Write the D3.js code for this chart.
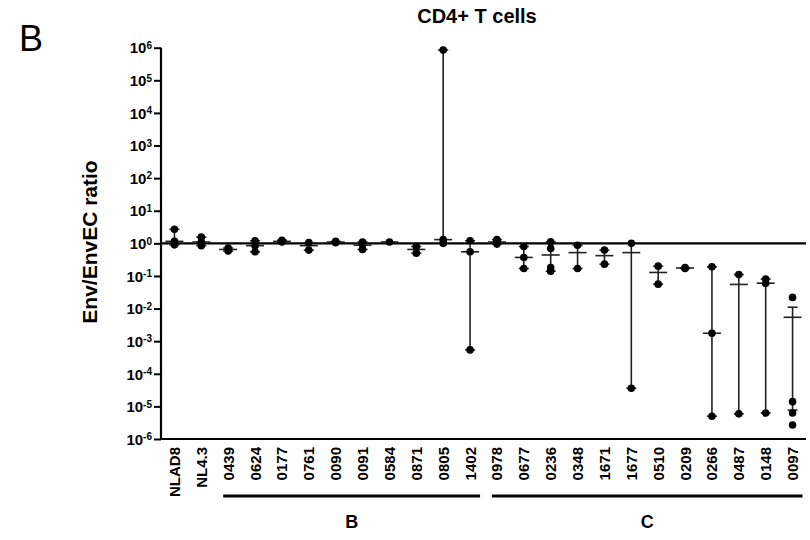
<!DOCTYPE html>
<html>
<head>
<meta charset="utf-8">
<script src="https://cdn.jsdelivr.net/npm/d3@7"></script>
<style>
  html, body { margin: 0; padding: 0; background: #fff; }
  svg { display: block; font-family: "Liberation Sans", Arial, Helvetica, sans-serif; }
</style>
</head>
<body>
<svg id="chart" width="810" height="540"></svg>
<script>
// ---- data ----
const categories = ["NLAD8","NL4.3","0439","0624","0177","0761","0090","0091","0584","0871","0805","1402",
  "0978","0677","0236","0348","1671","1677","0510","0209","0266","0487","0148","0097"];
const pointValues = [
  [2.7, 1.15, 0.9],
  [1.55, 1.1, 0.85],
  [0.72, 0.58],
  [1.2, 0.85, 0.55],
  [1.25, 1.1],
  [1.05, 0.62],
  [1.15, 1.05],
  [1.1, 0.9, 0.65],
  [1.1],
  [0.8, 0.5],
  [8.5e5, 1.3, 1.0],
  [1.2, 0.55, 5.4e-4],
  [1.3, 1.1, 0.95],
  [0.8, 0.37, 0.17],
  [1.12, 0.7, 0.18, 0.14],
  [0.87, 0.17],
  [0.62, 0.23],
  [1.0, 3.6e-5],
  [0.2, 0.056],
  [0.18, 0.17],
  [0.19, 1.75e-3, 5e-6],
  [0.11, 5.9e-6],
  [0.08, 0.06, 6.3e-6],
  [0.022, 1.4e-5, 6.3e-6, 2.7e-6]
];
const medians = [1.15, 1.1, 0.65, 0.85, 1.15, 0.85, 1.1, 0.88, 1.1, 0.65, 1.3, 0.55,
  1.1, 0.37, 0.44, 0.52, 0.42, 0.52, 0.128, 0.175, 1.75e-3, 0.055, 0.06, 5.4e-3];
const errHigh = [2.7, 1.55, 0.72, 1.2, 1.25, 1.05, 1.15, 1.1, 1.1, 0.8, 8.5e5, 1.2,
  1.3, 0.8, 1.12, 0.87, 0.62, 1.0, 0.2, 0.18, 0.19, 0.11, 0.08, 0.011];
const errLow = [0.9, 0.85, 0.58, 0.55, 1.1, 0.62, 1.05, 0.65, 1.1, 0.5, 1.0, 5.4e-4,
  0.95, 0.17, 0.14, 0.17, 0.23, 3.6e-5, 0.056, 0.17, 5e-6, 5.9e-6, 6.3e-6, 7.7e-6];
const groupNames = ["B", "C"];
const groupFirst = ["0439", "0978"];
const groupLast = ["1402", "0097"];
const yTickExponents = [-6,-5,-4,-3,-2,-1,0,1,2,3,4,5,6];
const referenceValue = 1;

// ---- layout ----
const svg = d3.select("#chart");
const plotLeft = 161, plotRight = 806, plotTop = 47.7, plotBottom = 439;

const x = d3.scalePoint().domain(categories).range([plotLeft, plotRight]).padding(0.5);
const y = d3.scaleLog().domain([1e-6, 1e6]).range([plotBottom, plotTop]);

// panel letter
svg.append("text").attr("x", 19).attr("y", 51).attr("font-size", 36).text("B");

// title
svg.append("text").attr("x", 477).attr("y", 23).attr("text-anchor", "middle")
  .attr("font-size", 20).attr("font-weight", "bold").text("CD4+ T cells");

// y axis
const yAxis = d3.axisLeft(y).tickValues(yTickExponents.map(e => Math.pow(10, e)))
  .tickSize(7).tickFormat("");
const gy = svg.append("g").attr("transform", `translate(${plotLeft},0)`).call(yAxis);
gy.select(".domain").attr("stroke", "#000").attr("stroke-width", 2.2)
  .attr("d", `M0,${plotTop}V${plotBottom}`);
gy.selectAll(".tick line").attr("stroke", "#000").attr("stroke-width", 2);
gy.selectAll(".tick").each(function(d, i) {
  const t = d3.select(this).append("text").attr("x", -9).attr("dy", "0.35em")
    .attr("text-anchor", "end").attr("font-size", 15).attr("font-weight", "bold").attr("fill", "#000");
  t.append("tspan").text("10");
  t.append("tspan").attr("dy", "-0.45em").attr("font-size", 10).text(String(yTickExponents[i]));
});

// x axis line (no ticks)
svg.append("line").attr("x1", plotLeft - 1).attr("x2", plotRight).attr("y1", plotBottom).attr("y2", plotBottom)
  .attr("stroke", "#000").attr("stroke-width", 2.2);

// reference line at 1
svg.append("line").attr("x1", plotLeft).attr("x2", plotRight)
  .attr("y1", y(referenceValue)).attr("y2", y(referenceValue))
  .attr("stroke", "#000").attr("stroke-width", 2.2);

// x labels
svg.append("g").selectAll("text").data(categories).join("text")
  .attr("transform", d => `translate(${x(d) + 5.5},${plotBottom + 8}) rotate(-90)`)
  .attr("text-anchor", "end").attr("font-size", 15).attr("font-weight", "bold").text(d => d);

// group bars & labels
groupNames.forEach((g, i) => {
  const x1 = x(groupFirst[i]) - 5, x2 = x(groupLast[i]) + 10;
  svg.append("line").attr("x1", x1).attr("x2", x2).attr("y1", 496).attr("y2", 496)
    .attr("stroke", "#000").attr("stroke-width", 3);
  svg.append("text").attr("x", (x1 + x2) / 2).attr("y", 528).attr("text-anchor", "middle")
    .attr("font-size", 18).attr("font-weight", "bold").text(g);
});

// y label
svg.append("text").attr("transform", `translate(97,242) rotate(-90)`).attr("text-anchor", "middle")
  .attr("font-size", 21).attr("font-weight", "bold").text("Env/EnvEC ratio");

// error bars, medians and points
const marks = svg.append("g");
categories.forEach((c, i) => {
  const cx = x(c);
  marks.append("line").attr("x1", cx).attr("x2", cx).attr("y1", y(errLow[i])).attr("y2", y(errHigh[i]))
    .attr("stroke", "#222").attr("stroke-width", 1.6);
  [errLow[i], errHigh[i]].forEach(v => {
    marks.append("line").attr("x1", cx - 5).attr("x2", cx + 5).attr("y1", y(v)).attr("y2", y(v))
      .attr("stroke", "#222").attr("stroke-width", 1.6);
  });
  marks.append("line").attr("x1", cx - 9).attr("x2", cx + 9).attr("y1", y(medians[i])).attr("y2", y(medians[i]))
    .attr("stroke", "#222").attr("stroke-width", 1.6);
  marks.selectAll(null).data(pointValues[i]).join("circle")
    .attr("cx", cx).attr("cy", v => y(v)).attr("r", 3.8).attr("fill", "#000");
});
</script>
</body>
</html>
